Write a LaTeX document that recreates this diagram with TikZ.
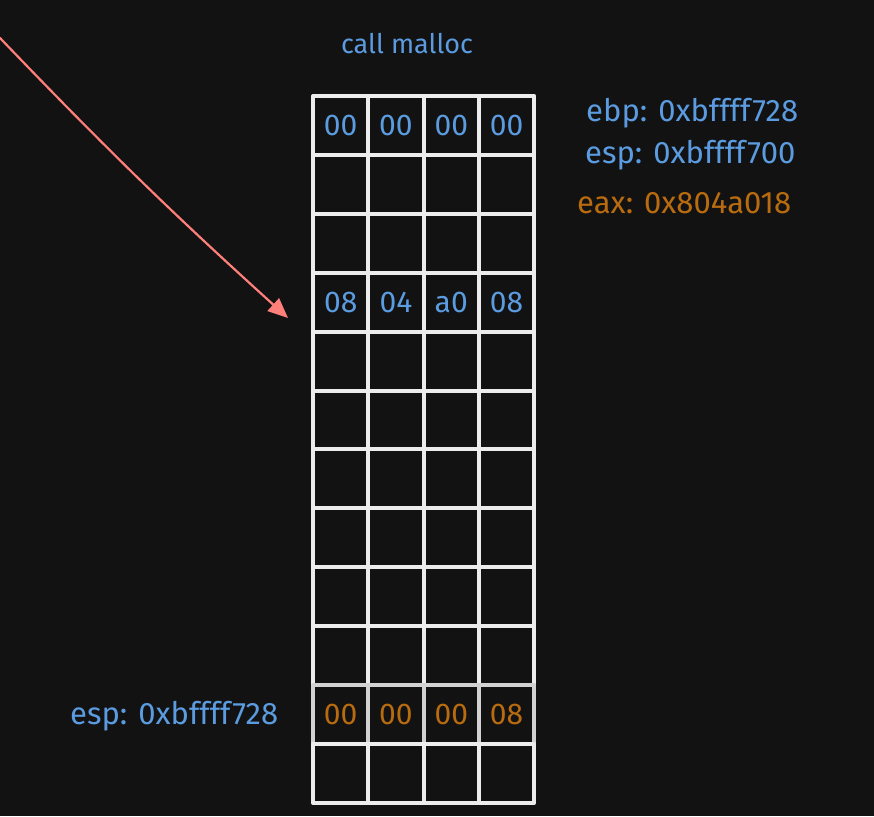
\documentclass[tikz,border=0pt]{standalone}
\usepackage{fontspec}
\setmainfont{Fira Sans}
\usetikzlibrary{arrows.meta}
\definecolor{bg}{HTML}{121212}
\definecolor{grid}{HTML}{ECECEC}
\definecolor{gridgray}{HTML}{D2D2D2}
\definecolor{bluetxt}{HTML}{5B9BE0}
\definecolor{browntxt}{HTML}{B86B0F}
\definecolor{arrowred}{HTML}{FF7F7A}
\begin{document}
\begin{tikzpicture}[x=1pt,y=-1pt,line cap=round,line join=round,
  cell/.style={draw=grid,line width=4pt,minimum width=55.3pt,minimum height=58.9pt,inner sep=0pt},
  byte/.style={font=\fontsize{30}{30}\selectfont},
  reg/.style={anchor=west,inner sep=0pt,font=\fontsize{31}{31}\selectfont}]
\fill[bg] (0,0) rectangle (874,816);
\useasboundingbox (0,0) rectangle (874,816);
\node[bluetxt,font=\fontsize{27}{27}\selectfont] (title) at (407,44) {call malloc};
\foreach \r in {0,...,11}{
  \def\gc{grid}\ifnum\r=10 \def\gc{gridgray}\fi
  \foreach \c in {0,...,3}
    \node[cell,draw=\gc] (c-\r-\c) at ({313+55.3*(\c+0.5)},{96+58.9*(\r+0.5)}) {};
}
\foreach \v [count=\c from 0] in {00,00,00,00}
  \node[byte,bluetxt] (v-0-\c) at (c-0-\c) {\v};
\foreach \v [count=\c from 0] in {08,04,a0,08}
  \node[byte,bluetxt] (v-3-\c) at (c-3-\c) {\v};
\foreach \v [count=\c from 0] in {00,00,00,08}
  \node[byte,browntxt] (v-10-\c) at (c-10-\c) {\v};
\node[reg,bluetxt] (ebp) at (586,113) {ebp: 0xbffff728};
\node[reg,bluetxt] (esp) at (585,155) {esp: 0xbffff700};
\node[reg,browntxt] (eax) at (577,203) {eax: 0x804a018};
\node[reg,bluetxt] (espold) at (70,716) {esp: 0xbffff728};
\coordinate (tail) at (0,38);
\coordinate (tip) at (288,318);
\draw[arrowred,line width=2.2pt,-{Triangle[length=20pt,width=17pt]}] (tail) to[bend right=2] (tip);
\end{tikzpicture}
\end{document}
